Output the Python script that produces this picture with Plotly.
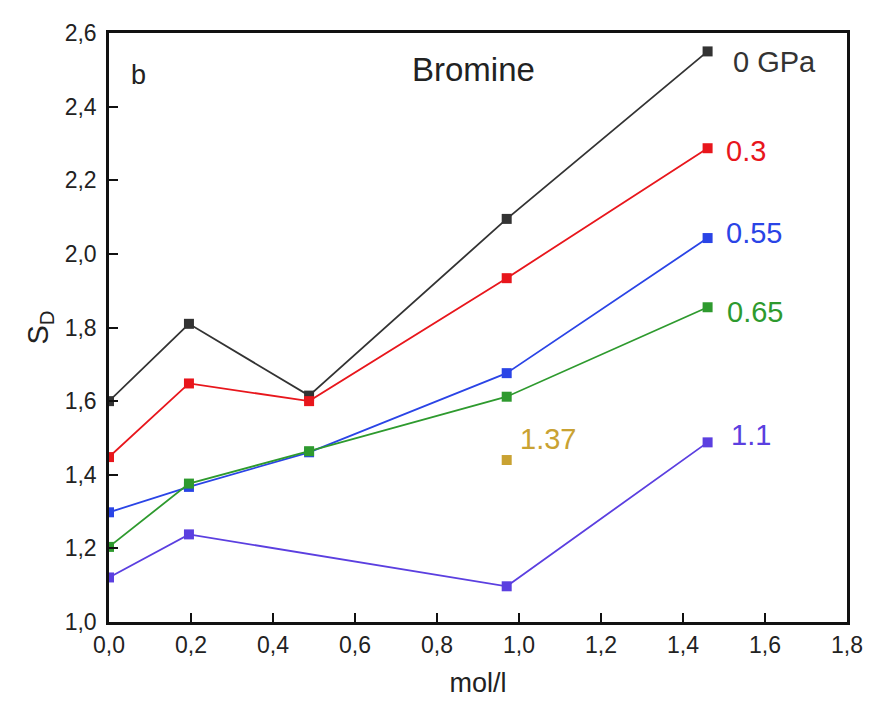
import plotly.graph_objects as go

x_conc = [0.0, 0.195, 0.488, 0.97, 1.46]
sd_0gpa = [1.60, 1.81, 1.615, 2.095, 2.55]
sd_03 = [1.448, 1.648, 1.60, 1.934, 2.287]
sd_055 = [1.298, 1.367, 1.461, 1.676, 2.043]
sd_065 = [1.204, 1.376, 1.464, 1.612, 1.855]
x_11 = [0.0, 0.195, 0.97, 1.46]
sd_11 = [1.121, 1.238, 1.097, 1.488]
x_137 = [0.97]
sd_137 = [1.44]

series = [
    ("0 GPa", x_conc, sd_0gpa, "#333333"),
    ("0.3", x_conc, sd_03, "#e8161c"),
    ("0.55", x_conc, sd_055, "#2a44e6"),
    ("0.65", x_conc, sd_065, "#2e9a2e"),
    ("1.1", x_11, sd_11, "#5b3fe0"),
]

x_ticks = [0, 0.2, 0.4, 0.6, 0.8, 1.0, 1.2, 1.4, 1.6, 1.8]
x_ticklabels = ["0,0", "0,2", "0,4", "0,6", "0,8", "1,0", "1,2", "1,4", "1,6", "1,8"]
y_ticks = [1.0, 1.2, 1.4, 1.6, 1.8, 2.0, 2.2, 2.4, 2.6]
y_ticklabels = ["1,0", "1,2", "1,4", "1,6", "1,8", "2,0", "2,2", "2,4", "2,6"]

fig = go.Figure()
for name, xs, ys, col in series:
    fig.add_trace(go.Scatter(x=xs, y=ys, mode="lines+markers", name=name,
                             line=dict(color=col, width=1.8),
                             marker=dict(symbol="square", size=10, color=col)))
fig.add_trace(go.Scatter(x=x_137, y=sd_137, mode="markers", name="1.37",
                         marker=dict(symbol="square", size=10, color="#c9a232")))

font = "Liberation Sans, Arial, sans-serif"
labels = [
    ("0 GPa", 1.518, 2.52, "#333333"),
    ("0.3", 1.50, 2.279, "#e8161c"),
    ("0.55", 1.50, 2.056, "#2a44e6"),
    ("0.65", 1.503, 1.842, "#2e9a2e"),
    ("1.1", 1.513, 1.507, "#5b3fe0"),
    ("1.37", 0.998, 1.496, "#c9a232"),
]
for txt, ax, ay, col in labels:
    fig.add_annotation(x=ax, y=ay, text=txt, showarrow=False, xanchor="left",
                       yanchor="middle", font=dict(size=29, color=col, family=font))
fig.add_annotation(x=0.073, y=2.485, text="b", showarrow=False,
                   font=dict(size=27, color="#222222", family=font))
fig.add_annotation(x=0.889, y=2.5, text="Bromine", showarrow=False,
                   font=dict(size=33, color="#222222", family=font))

# The page body adds an 8px margin; size the figure so the plot lands where the reference's does.
fig.update_layout(
    width=867, height=703,
    margin=dict(l=101, r=25, t=17, b=89),
    plot_bgcolor="white", paper_bgcolor="white",
    showlegend=False,
    font=dict(family=font, color="#222222"),
    xaxis=dict(range=[0, 1.8], tickvals=x_ticks, ticktext=x_ticklabels,
               showgrid=False, zeroline=False, showline=True, linecolor="#111111",
               linewidth=2.5, mirror=True, ticks="inside", ticklen=9, tickwidth=2,
               tickcolor="#111111", tickfont=dict(size=23), ticklabelstandoff=1,
               title=dict(text="mol/l", font=dict(size=27), standoff=16)),
    yaxis=dict(range=[1.0, 2.6], tickvals=y_ticks, ticktext=y_ticklabels,
               showgrid=False, zeroline=False, showline=True, linecolor="#111111",
               linewidth=2.5, mirror=True, ticks="inside", ticklen=9, tickwidth=2,
               tickcolor="#111111", tickfont=dict(size=23), ticklabelstandoff=5,
               title=dict(text="S<sub>D</sub>", font=dict(size=29), standoff=8)),
)

fig.write_html("out.html")
